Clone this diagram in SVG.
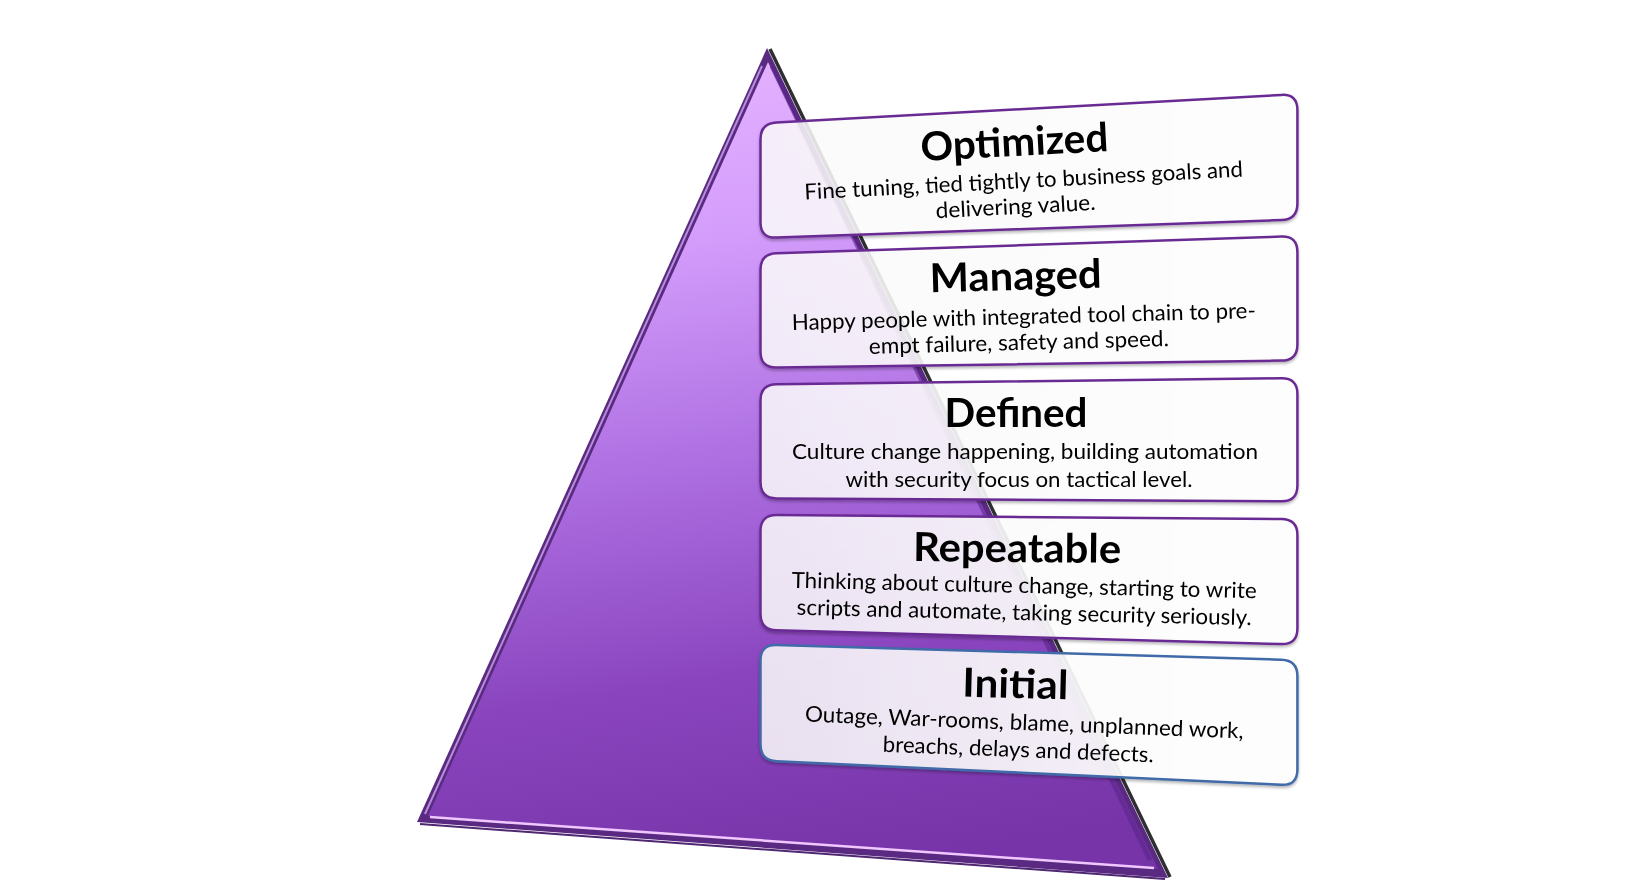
<svg xmlns="http://www.w3.org/2000/svg" width="1638" height="896" viewBox="0 0 1638 896">
<defs>
<linearGradient id="triFill" gradientUnits="userSpaceOnUse" x1="700" y1="60" x2="820" y2="870">
<stop offset="0" stop-color="#e4b2ff"/>
<stop offset="0.22" stop-color="#d39cfb"/>
<stop offset="0.5" stop-color="#ac6de0"/>
<stop offset="0.75" stop-color="#8a45be"/>
<stop offset="1" stop-color="#7634a8"/>
</linearGradient>
<linearGradient id="boxFill" x1="0" y1="0" x2="1" y2="0">
<stop offset="0" stop-color="#ffffff" stop-opacity="0.82"/>
<stop offset="1" stop-color="#ffffff" stop-opacity="0.95"/>
</linearGradient>
<filter id="sh" x="-5%" y="-10%" width="110%" height="130%">
<feGaussianBlur in="SourceAlpha" stdDeviation="1.5"/>
<feOffset dx="0" dy="2" result="b"/>
<feComponentTransfer><feFuncA type="linear" slope="0.3"/></feComponentTransfer>
<feMerge><feMergeNode/><feMergeNode in="SourceGraphic"/></feMerge>
</filter>
</defs>
<style>
.box{fill:url(#boxFill);stroke:#6a2c94;stroke-width:2.5}
.box5{stroke:#3f6aa8}
.title{font-family:Lato,"Open Sans","Liberation Sans",sans-serif;font-weight:bold;font-size:40px;fill:#000;text-anchor:middle}
.body{font-family:Lato,"Open Sans","Liberation Sans",sans-serif;font-size:22px;fill:#000;text-anchor:middle}
</style>
<rect width="1638" height="896" fill="#ffffff"/>

<g id="pyramid">
<polygon points="767,48 417,822 1168,878" fill="#5a2a82"/>
<polygon points="768,62 428,816 1158,869" fill="url(#triFill)"/>
<line x1="770" y1="49" x2="1170" y2="877" stroke="#2f2f33" stroke-width="3.5"/>
<line x1="762" y1="66" x2="425" y2="814" stroke="#cda6ee" stroke-width="2" opacity="0.8"/>
<line x1="772" y1="66" x2="1150" y2="860" stroke="#5b2589" stroke-width="5" opacity="0.6"/>
<line x1="430" y1="817" x2="1154" y2="868" stroke="#f0c8ff" stroke-width="2.5"/>
<line x1="420" y1="824" x2="1165" y2="879" stroke="#4e2672" stroke-width="2"/>
</g>

<g id="connectors"></g>

<g id="optimized" filter="url(#sh)">
<path class="box" d="M 760.5,139.3 Q 760.5,123.3 776.5,122.4 L 1281.4,94.9 Q 1297.4,94 1297.4,110 L 1297.4,203.4 Q 1297.4,219.4 1281.4,220 L 776.5,237.6 Q 760.5,238.2 760.5,222.2 Z"/>
<text class="title" x="1015" y="156" transform="rotate(-3 1015 156)" textLength="188" lengthAdjust="spacingAndGlyphs">Optimized</text>
<text class="body" x="1024" y="188" transform="rotate(-3 1024 188)" textLength="439" lengthAdjust="spacingAndGlyphs">Fine tuning, tied tightly to business goals and</text>
<text class="body" x="1016" y="214" transform="rotate(-3 1016 214)" textLength="160" lengthAdjust="spacingAndGlyphs">delivering value.</text>
</g>

<g id="managed" filter="url(#sh)">
<path class="box" d="M 760.5,269.8 Q 760.5,253.8 776.5,253.3 L 1281.4,236.6 Q 1297.4,236.1 1297.4,252.1 L 1297.4,344.4 Q 1297.4,360.4 1281.4,360.6 L 776.5,367.5 Q 760.5,367.7 760.5,351.7 Z"/>
<text class="title" x="1016" y="290" transform="rotate(-1.5 1016 290)" textLength="172" lengthAdjust="spacingAndGlyphs">Managed</text>
<text class="body" x="1024" y="324" transform="rotate(-1.5 1024 324)" textLength="464" lengthAdjust="spacingAndGlyphs">Happy people with integrated tool chain to pre-</text>
<text class="body" x="1019" y="350" transform="rotate(-1.5 1019 350)" textLength="300" lengthAdjust="spacingAndGlyphs">empt failure, safety and speed.</text>
</g>

<g id="defined" filter="url(#sh)">
<path class="box" d="M 760.5,400.4 Q 760.5,384.4 776.5,384.2 L 1281.4,378.3 Q 1297.4,378.1 1297.4,394.1 L 1297.4,485.4 Q 1297.4,501.4 1281.4,501.3 L 776.5,498.4 Q 760.5,498.3 760.5,482.3 Z"/>
<text class="title" x="1016" y="427" textLength="143" lengthAdjust="spacingAndGlyphs">Defined</text>
<text class="body" x="1025" y="459" textLength="466" lengthAdjust="spacingAndGlyphs">Culture change happening, building automation</text>
<text class="body" x="1019" y="487" textLength="347" lengthAdjust="spacingAndGlyphs">with security focus on tactical level.</text>
</g>

<g id="repeatable" filter="url(#sh)">
<path class="box" d="M 760.5,531 Q 760.5,515 776.5,515.1 L 1281.4,519.1 Q 1297.4,519.2 1297.4,535.2 L 1297.4,628.5 Q 1297.4,644.5 1281.4,644.1 L 776.5,630.3 Q 760.5,629.9 760.5,613.9 Z"/>
<text class="title" x="1017" y="562" transform="rotate(0.5 1017 562)" textLength="208" lengthAdjust="spacingAndGlyphs">Repeatable</text>
<text class="body" x="1024" y="593" transform="rotate(1.3 1024 593)" textLength="465" lengthAdjust="spacingAndGlyphs">Thinking about culture change, starting to write</text>
<text class="body" x="1024" y="620" transform="rotate(1.3 1024 620)" textLength="455" lengthAdjust="spacingAndGlyphs">scripts and automate, taking security seriously.</text>
</g>

<g id="initial" filter="url(#sh)">
<path class="box box5" d="M 760.5,660.5 Q 760.5,644.5 776.5,645 L 1281.4,659.7 Q 1297.4,660.2 1297.4,676.2 L 1297.4,769.5 Q 1297.4,785.5 1281.4,784.8 L 776.5,761.2 Q 760.5,760.5 760.5,744.5 Z"/>
<text class="title" x="1015" y="698" transform="rotate(1.5 1015 698)" textLength="106" lengthAdjust="spacingAndGlyphs">Initial</text>
<text class="body" x="1024" y="730" transform="rotate(2.2 1024 730)" textLength="439" lengthAdjust="spacingAndGlyphs">Outage, War-rooms, blame, unplanned work,</text>
<text class="body" x="1018" y="757" transform="rotate(2.2 1018 757)" textLength="271" lengthAdjust="spacingAndGlyphs">breachs, delays and defects.</text>
</g>
</svg>
